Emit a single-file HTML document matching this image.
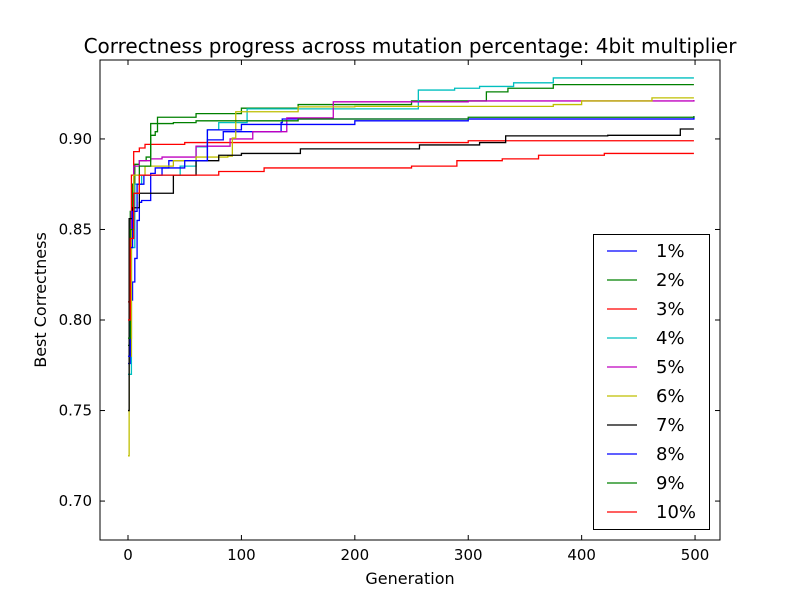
<!DOCTYPE html>
<html><head><meta charset="utf-8"><style>
body{margin:0;background:#fff;}
text{font-family:"DejaVu Sans","Liberation Sans",sans-serif;}
</style></head><body>
<svg id="chart" width="800" height="600" xmlns="http://www.w3.org/2000/svg"></svg>
<script>
const seriesNames=["1%","2%","3%","4%","5%","6%","7%","8%","9%","10%"];
const seriesColors=["#0000ff","#008000","#ff0000","#00bfbf","#bf00bf","#bfbf00","#000000","#0000ff","#008000","#ff0000"];
const xTicks=[0,100,200,300,400,500];
const yTicks=[0.70,0.75,0.80,0.85,0.90];
const gens1=[0,2,4,6,8,10,12,20,24,36,70,82,84,94,135,136,499];
const vals1=[0.776,0.811,0.821,0.834,0.855,0.865,0.866,0.881,0.884,0.888,0.8995,0.8995,0.904,0.904,0.909,0.911,0.912];
const gens2=[0,2,4,6,10,16,20,24,26,60,100,150,250,316,335,375,499];
const vals2=[0.786,0.86,0.875,0.886,0.888,0.89,0.902,0.904,0.912,0.914,0.917,0.919,0.921,0.926,0.928,0.930,0.930];
const gens3=[0,1,3,5,10,15,50,300,499];
const vals3=[0.81,0.85,0.88,0.893,0.895,0.897,0.898,0.899,0.899];
const gens4=[0,3,6,12,46,60,70,80,105,256,288,310,340,375,499];
const vals4=[0.77,0.84,0.875,0.880,0.885,0.8956,0.905,0.909,0.9166,0.927,0.928,0.929,0.931,0.9337,0.9337];
const gens5=[0,3,5,10,20,30,60,90,110,140,181,300,499];
const vals5=[0.79,0.86,0.885,0.888,0.889,0.890,0.896,0.900,0.904,0.9116,0.9205,0.921,0.9215];
const gens6=[0,1,3,5,15,40,60,88,92,95,150,200,375,400,462,499];
const vals6=[0.725,0.78,0.85,0.880,0.885,0.888,0.890,0.8905,0.9005,0.915,0.9177,0.918,0.919,0.921,0.9227,0.9227];
const gens7=[0,1,4,10,40,60,80,100,152,257,310,333,423,487,499];
const vals7=[0.75,0.856,0.862,0.87,0.88,0.888,0.891,0.892,0.8945,0.8967,0.898,0.9017,0.902,0.9055,0.9055];
const gens8=[0,2,4,8,14,30,50,70,100,200,300,499];
const vals8=[0.78,0.84,0.86,0.875,0.88,0.884,0.888,0.905,0.908,0.910,0.911,0.9125];
const gens9=[0,2,5,10,20,40,60,150,300,499];
const vals9=[0.79,0.85,0.87,0.885,0.9085,0.909,0.910,0.911,0.912,0.9127];
const gens10=[0,2,5,10,80,120,250,290,330,362,420,499];
const vals10=[0.80,0.845,0.87,0.880,0.882,0.884,0.885,0.888,0.889,0.891,0.892,0.892];
const allGens=[gens1,gens2,gens3,gens4,gens5,gens6,gens7,gens8,gens9,gens10];
const allVals=[vals1,vals2,vals3,vals4,vals5,vals6,vals7,vals8,vals9,vals10];

const NS="http://www.w3.org/2000/svg";
const svg=document.getElementById('chart');
const L=100,R=720,T=60,B=540;
const xMin=-24.7,xMax=522,yMin=0.6785,yMax=0.9436;
function xs(v){return L+(v-xMin)/(xMax-xMin)*(R-L);}
function ys(v){return B-(v-yMin)/(yMax-yMin)*(B-T);}
function mk(tag,attrs,parent){const e=document.createElementNS(NS,tag);for(const k in attrs)e.setAttribute(k,attrs[k]);(parent||svg).appendChild(e);return e;}

const t=mk('text',{x:410,y:53,'text-anchor':'middle','font-size':20});
t.textContent="Correctness progress across mutation percentage: 4bit multiplier";



const clip=mk('clipPath',{id:'pc'});mk('rect',{x:L,y:T,width:R-L,height:B-T},clip);
const g=mk('g',{'clip-path':'url(#pc)'});


for(let s=0;s<allGens.length;s++){
  const gs=allGens[s],vs=allVals[s];
  let d='M'+xs(gs[0])+','+ys(vs[0]);
  for(let i=1;i<gs.length;i++){d+=' L'+xs(gs[i])+','+ys(vs[i-1])+' L'+xs(gs[i])+','+ys(vs[i]);}
  const p=mk('path',{d:d,fill:'none',stroke:seriesColors[s],'stroke-width':1.3},g);
  
  
}
const frame=mk('rect',{x:L,y:T,width:R-L,height:B-T,fill:'none',stroke:'#000','stroke-width':1});



for(const v of xTicks){
  const x=xs(v);
  mk('line',{x1:x,x2:x,y1:B,y2:B-5,stroke:'#000'});
  mk('line',{x1:x,x2:x,y1:T,y2:T+5,stroke:'#000'});
  const lb=mk('text',{x:x,y:B+20,'text-anchor':'middle','font-size':15});
  lb.textContent=v;
  
  
}
for(const v of yTicks){
  const y=ys(v);
  mk('line',{x1:L,x2:L+5,y1:y,y2:y,stroke:'#000'});
  mk('line',{x1:R,x2:R-5,y1:y,y2:y,stroke:'#000'});
  const lb=mk('text',{x:L-8,y:y+5,'text-anchor':'end','font-size':15});
  lb.textContent=v.toFixed(2);
  
  
}
const xl=mk('text',{x:410,y:584,'text-anchor':'middle','font-size':16});
xl.textContent="Generation";


const yl=mk('text',{x:46,y:300,'text-anchor':'middle','font-size':16,transform:'rotate(-90 46 300)'});
yl.textContent="Best Correctness";



const lg=mk('g',{});


mk('rect',{x:593.5,y:234.5,width:116,height:295,fill:'#fff',stroke:'#000'},lg);
for(let s=0;s<seriesNames.length;s++){
  const y=251+s*29;
  const e=mk('g',{},lg);
  
  
  mk('line',{x1:607,x2:637,y1:y,y2:y,stroke:seriesColors[s],'stroke-width':1.3},e);
  const tx=mk('text',{x:656,y:y+6,'font-size':18},e);
  tx.textContent=seriesNames[s];
}
</script>
</body></html>
